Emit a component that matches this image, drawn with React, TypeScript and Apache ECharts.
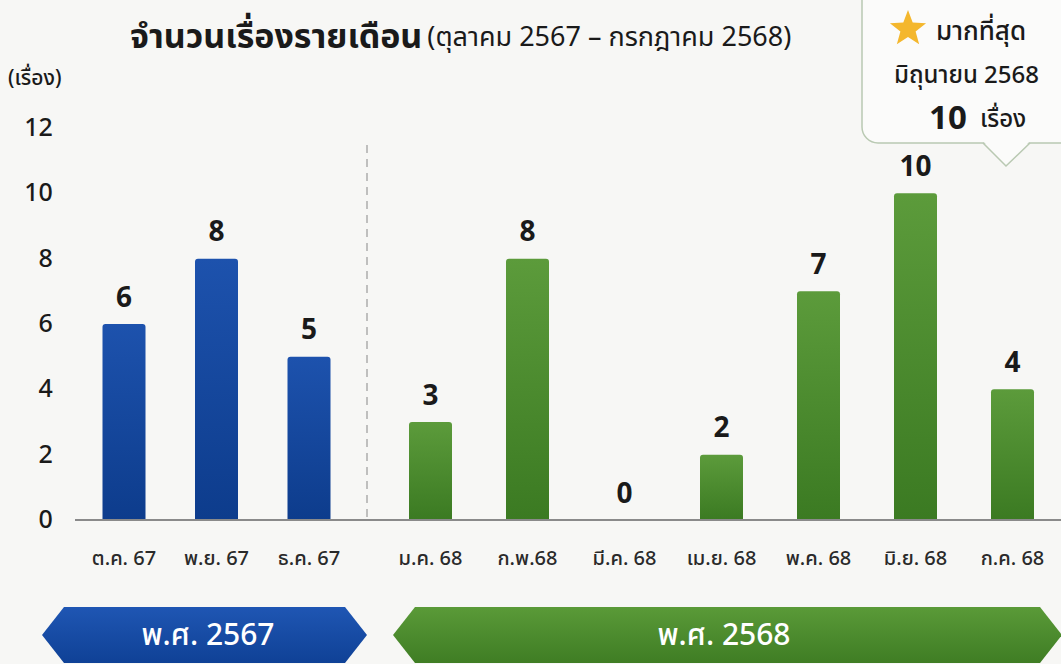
import React, { useEffect, useRef } from "react";
import * as echarts from "echarts";

const months2567 = ["ต.ค. 67", "พ.ย. 67", "ธ.ค. 67"];
const values2567 = [6, 8, 5];
const months2568 = ["ม.ค. 68", "ก.พ.68", "มี.ค. 68", "เม.ย. 68", "พ.ค. 68", "มิ.ย. 68", "ก.ค. 68"];
const values2568 = [3, 8, 0, 2, 7, 10, 4];
const yTicks = { min: 0, max: 12, interval: 2 };
const titleMain = "จำนวนเรื่องรายเดือน";
const titleSub = "(ตุลาคม 2567 – กรกฎาคม 2568)";
const unitLabel = "(เรื่อง)";
const yearLabels = ["พ.ศ. 2567", "พ.ศ. 2568"];
const peakLines = ["มากที่สุด", "มิถุนายน 2568", "10", "เรื่อง"];

const FONT = "'Noto Sans Thai', 'Noto Sans', Roboto, sans-serif";

function starPoints(cx: number, cy: number, R: number, r: number) {
  const pts: number[][] = [];
  for (let i = 0; i < 10; i++) {
    const ang = -Math.PI / 2 + (i * Math.PI) / 5;
    const rad = i % 2 === 0 ? R : r;
    pts.push([cx + rad * Math.cos(ang), cy + rad * Math.sin(ang)]);
  }
  return pts;
}

export default function App() {
  const ref = useRef<HTMLDivElement>(null);
  useEffect(() => {
    if (!ref.current) return;
    const chart = echarts.init(ref.current, null, { renderer: "svg" });
    const blueGrad = new echarts.graphic.LinearGradient(0, 0, 0, 1, [
      { offset: 0, color: "#1d52ad" },
      { offset: 1, color: "#0d3c8c" },
    ]);
    const greenGrad = new echarts.graphic.LinearGradient(0, 0, 0, 1, [
      { offset: 0, color: "#5c9b3b" },
      { offset: 1, color: "#3b7a22" },
    ]);
    const labelStyle = {
      show: true,
      position: "top" as const,
      distance: 12,
      fontSize: 28,
      fontWeight: "bold" as const,
      color: "#1a1a1a",
      fontFamily: FONT,
    };
    const axisLabelStyle = {
      fontSize: 20,
      color: "#2a2a2a",
      fontFamily: FONT,
      margin: 29,
      fontWeight: 500 as any,
    };
    const zeroY = 520;
    const option: any = {
      animation: false,
      backgroundColor: "#f7f7f5",
      title: {
        left: 125,
        top: 15,
        text: `{a|${titleMain}} {b|${titleSub}}`,
        textStyle: {
          rich: {
            a: { fontSize: 34, fontWeight: "bold", color: "#1a1a1a", fontFamily: FONT },
            b: { fontSize: 27, fontWeight: "normal", color: "#1a1a1a", fontFamily: FONT },
          },
        },
      },
      grid: [
        { left: 77.75, width: 277.5, top: 128, bottom: 144 },
        { left: 382, right: -8, top: 128, bottom: 144 },
      ],
      xAxis: [
        {
          gridIndex: 0,
          type: "category",
          data: months2567,
          axisLine: { show: false },
          axisTick: { show: false },
          axisLabel: axisLabelStyle,
        },
        {
          gridIndex: 1,
          type: "category",
          data: months2568,
          axisLine: { show: false },
          axisTick: { show: false },
          axisLabel: axisLabelStyle,
        },
      ],
      yAxis: [
        {
          gridIndex: 0,
          type: "value",
          ...yTicks,
          splitLine: { show: false },
          axisLine: { show: false },
          axisTick: { show: false },
          axisLabel: {
            fontSize: 25,
            color: "#1a1a1a",
            fontFamily: FONT,
            fontWeight: 500,
            margin: 25,
          },
        },
        {
          gridIndex: 1,
          type: "value",
          ...yTicks,
          show: false,
          splitLine: { show: false },
        },
      ],
      series: [
        {
          type: "bar",
          xAxisIndex: 0,
          yAxisIndex: 0,
          data: values2567,
          barWidth: 43,
          itemStyle: { color: blueGrad, borderRadius: [3, 3, 0, 0] },
          label: labelStyle,
        },
        {
          type: "bar",
          xAxisIndex: 1,
          yAxisIndex: 1,
          data: values2568,
          barWidth: 43,
          itemStyle: { color: greenGrad, borderRadius: [3, 3, 0, 0] },
          label: labelStyle,
        },
      ],
      graphic: [
        {
          type: "text",
          left: 8,
          top: 68,
          style: { text: unitLabel, fill: "#1a1a1a", font: `500 21px ${FONT}` },
        },
        {
          type: "line",
          shape: { x1: 75, y1: zeroY, x2: 1061, y2: zeroY },
          style: { stroke: "#8a8a8a", lineWidth: 2 },
          z: 10,
        },
        {
          type: "line",
          shape: { x1: 367, y1: 145, x2: 367, y2: zeroY },
          style: { stroke: "#9a9a9a", lineWidth: 1.2, lineDash: [8, 6] },
        },
        // callout box
        {
          type: "rect",
          shape: { x: 862, y: -20, width: 220, height: 163, r: 16 },
          style: { fill: "#fbfbfa", stroke: "#b9c9b2", lineWidth: 1.5 },
          z: 20,
        },
        {
          type: "polygon",
          shape: { points: [[983, 141], [1030, 141], [1006, 166]] },
          style: { fill: "#fbfbfa" },
          z: 21,
        },
        {
          type: "polyline",
          shape: { points: [[983, 143], [1006, 166], [1030, 143]] },
          style: { stroke: "#b9c9b2", lineWidth: 1.5, fill: null },
          z: 21,
        },
        {
          type: "polygon",
          shape: { points: starPoints(908, 29, 19, 8) },
          style: { fill: "#f4b72d" },
          z: 22,
        },
        {
          type: "text",
          x: 936,
          y: 32,
          style: { text: peakLines[0], font: `500 26px ${FONT}`, fill: "#1a1a1a", verticalAlign: "middle" },
          z: 22,
        },
        {
          type: "text",
          x: 894,
          y: 76,
          style: { text: peakLines[1], font: `500 24px ${FONT}`, fill: "#1a1a1a", verticalAlign: "middle" },
          z: 22,
        },
        {
          type: "text",
          x: 929,
          y: 119,
          style: { text: peakLines[2], font: `bold 33px ${FONT}`, fill: "#1a1a1a", verticalAlign: "middle" },
          z: 22,
        },
        {
          type: "text",
          x: 980,
          y: 120,
          style: { text: peakLines[3], font: `500 24px ${FONT}`, fill: "#1a1a1a", verticalAlign: "middle" },
          z: 22,
        },
        // year banners
        {
          type: "polygon",
          shape: { points: [[42, 635], [64, 607], [345, 607], [367, 635], [345, 663], [64, 663]] },
          style: {
            fill: new echarts.graphic.LinearGradient(0, 0, 0, 1, [
              { offset: 0, color: "#1f56b3" },
              { offset: 1, color: "#0f4196" },
            ]),
          },
        },
        {
          type: "text",
          x: 208,
          y: 636,
          style: { text: yearLabels[0], font: `500 30px ${FONT}`, fill: "#ffffff", align: "center", verticalAlign: "middle" },
        },
        {
          type: "polygon",
          shape: { points: [[393, 635], [415, 607], [1040, 607], [1062, 635], [1040, 663], [415, 663]] },
          style: {
            fill: new echarts.graphic.LinearGradient(0, 0, 0, 1, [
              { offset: 0, color: "#5a9a38" },
              { offset: 1, color: "#3f7d24" },
            ]),
          },
        },
        {
          type: "text",
          x: 724,
          y: 636,
          style: { text: yearLabels[1], font: `500 30px ${FONT}`, fill: "#ffffff", align: "center", verticalAlign: "middle" },
        },
      ],
    };
    chart.setOption(option);
    return () => chart.dispose();
  }, []);
  return (
    <div
      ref={ref}
      style={{ position: "absolute", left: 0, top: 0, width: 1061, height: 664 }}
    />
  );
}
